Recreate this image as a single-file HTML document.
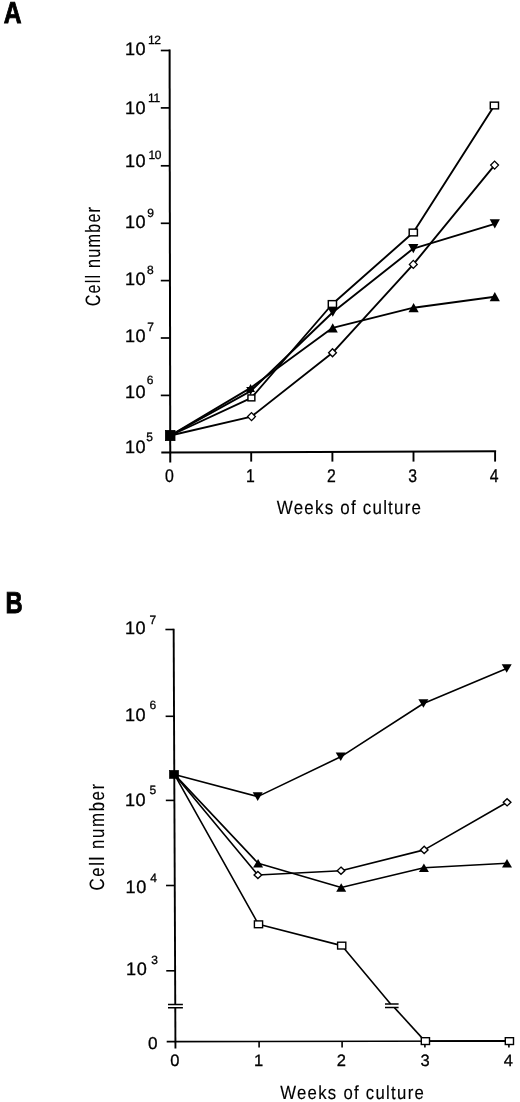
<!DOCTYPE html>
<html><head><meta charset="utf-8"><title>Figure</title>
<style>
html,body{margin:0;padding:0;background:#fff;}
text{stroke:#000;stroke-width:0.3px;}
svg{display:block;font-family:"Liberation Sans", sans-serif;fill:#000;will-change:transform;text-rendering:geometricPrecision;}
</style></head><body>
<svg width="520" height="1102" viewBox="0 0 520 1102">
<rect width="520" height="1102" fill="#fff"/>
<text transform="translate(3.75,22.95) scale(0.817,1)" font-size="30.2" font-weight="bold" letter-spacing="0.000" text-anchor="start" style="stroke-width:0.9px">A</text>
<line x1="169.60" y1="49.60" x2="170.25" y2="462.40" stroke="#000" stroke-width="2.0" stroke-linecap="butt"/>
<line x1="161.30" y1="452.60" x2="496.10" y2="451.20" stroke="#000" stroke-width="2.0" stroke-linecap="butt"/>
<line x1="160.80" y1="50.50" x2="169.90" y2="50.50" stroke="#000" stroke-width="1.7" stroke-linecap="butt"/>
<text transform="translate(124.90,54.60)" font-size="18.1" font-weight="normal" letter-spacing="0.500" text-anchor="start">10</text>
<text transform="translate(147.90,44.40)" font-size="12.0" font-weight="normal" letter-spacing="-0.300" text-anchor="start">12</text>
<line x1="160.80" y1="107.90" x2="169.90" y2="107.90" stroke="#000" stroke-width="1.7" stroke-linecap="butt"/>
<text transform="translate(124.90,113.65)" font-size="18.1" font-weight="normal" letter-spacing="0.500" text-anchor="start">10</text>
<text transform="translate(147.90,101.80)" font-size="12.0" font-weight="normal" letter-spacing="-0.300" text-anchor="start">11</text>
<line x1="160.80" y1="165.80" x2="169.90" y2="165.80" stroke="#000" stroke-width="1.7" stroke-linecap="butt"/>
<text transform="translate(124.90,167.20)" font-size="18.1" font-weight="normal" letter-spacing="0.500" text-anchor="start">10</text>
<text transform="translate(148.40,159.00)" font-size="12.0" font-weight="normal" letter-spacing="-0.300" text-anchor="start">10</text>
<line x1="160.80" y1="223.30" x2="169.90" y2="223.30" stroke="#000" stroke-width="1.7" stroke-linecap="butt"/>
<text transform="translate(124.90,227.90)" font-size="18.1" font-weight="normal" letter-spacing="0.500" text-anchor="start">10</text>
<text transform="translate(147.30,216.50)" font-size="12.0" font-weight="normal" letter-spacing="0.000" text-anchor="start">9</text>
<line x1="160.80" y1="280.60" x2="169.90" y2="280.60" stroke="#000" stroke-width="1.7" stroke-linecap="butt"/>
<text transform="translate(124.90,285.10)" font-size="18.1" font-weight="normal" letter-spacing="0.500" text-anchor="start">10</text>
<text transform="translate(147.00,274.00)" font-size="12.0" font-weight="normal" letter-spacing="0.000" text-anchor="start">8</text>
<line x1="160.80" y1="338.00" x2="169.90" y2="338.00" stroke="#000" stroke-width="1.7" stroke-linecap="butt"/>
<text transform="translate(124.90,342.40)" font-size="18.1" font-weight="normal" letter-spacing="0.500" text-anchor="start">10</text>
<text transform="translate(147.30,330.90)" font-size="12.0" font-weight="normal" letter-spacing="0.000" text-anchor="start">7</text>
<line x1="160.80" y1="395.40" x2="169.90" y2="395.40" stroke="#000" stroke-width="1.7" stroke-linecap="butt"/>
<text transform="translate(124.90,397.70)" font-size="18.1" font-weight="normal" letter-spacing="0.500" text-anchor="start">10</text>
<text transform="translate(146.80,384.20)" font-size="12.0" font-weight="normal" letter-spacing="0.000" text-anchor="start">6</text>
<text transform="translate(124.90,452.90)" font-size="18.1" font-weight="normal" letter-spacing="0.500" text-anchor="start">10</text>
<text transform="translate(146.30,440.70)" font-size="12.0" font-weight="normal" letter-spacing="0.000" text-anchor="start">5</text>
<text transform="translate(169.30,481.70) scale(0.86,1)" font-size="18.4" font-weight="normal" letter-spacing="0.000" text-anchor="middle">0</text>
<line x1="251.20" y1="452.22" x2="251.20" y2="461.60" stroke="#000" stroke-width="1.9" stroke-linecap="butt"/>
<text transform="translate(250.30,481.70) scale(0.86,1)" font-size="18.4" font-weight="normal" letter-spacing="0.000" text-anchor="middle">1</text>
<line x1="332.40" y1="451.88" x2="332.40" y2="461.60" stroke="#000" stroke-width="1.9" stroke-linecap="butt"/>
<text transform="translate(331.50,481.70) scale(0.86,1)" font-size="18.4" font-weight="normal" letter-spacing="0.000" text-anchor="middle">2</text>
<line x1="413.50" y1="451.54" x2="413.50" y2="461.60" stroke="#000" stroke-width="1.9" stroke-linecap="butt"/>
<text transform="translate(412.60,481.70) scale(0.86,1)" font-size="18.4" font-weight="normal" letter-spacing="0.000" text-anchor="middle">3</text>
<line x1="495.10" y1="451.20" x2="495.10" y2="461.60" stroke="#000" stroke-width="1.9" stroke-linecap="butt"/>
<text transform="translate(494.20,481.70) scale(0.86,1)" font-size="18.4" font-weight="normal" letter-spacing="0.000" text-anchor="middle">4</text>
<text transform="translate(100.00,306.30) rotate(-90) scale(0.78,1)" font-size="20.8" font-weight="normal" letter-spacing="1.517" text-anchor="start" style="stroke-width:0.05px">Cell number</text>
<text transform="translate(276.80,514.40) scale(0.88,1)" font-size="19.3" font-weight="normal" letter-spacing="1.373" text-anchor="start" style="stroke-width:0.15px">Weeks of culture</text>
<polyline points="170.40,435.50 250.60,387.90 332.70,327.80 413.60,307.70 494.80,296.70" fill="none" stroke="#000" stroke-width="1.9" stroke-linejoin="round"/>
<polyline points="170.40,435.50 250.60,391.10 332.80,312.20 413.30,248.60 494.80,223.80" fill="none" stroke="#000" stroke-width="1.9" stroke-linejoin="round"/>
<polyline points="170.40,435.50 251.50,416.60 332.50,352.80 413.30,264.40 494.60,165.10" fill="none" stroke="#000" stroke-width="1.9" stroke-linejoin="round"/>
<polyline points="170.40,435.50 251.40,397.90 332.40,304.00 413.30,232.50 494.40,105.50" fill="none" stroke="#000" stroke-width="1.9" stroke-linejoin="round"/>
<polygon points="250.60,383.90 255.00,391.90 246.20,391.90" fill="#000"/>
<polygon points="250.60,395.10 255.00,387.10 246.20,387.10" fill="#000"/>
<polygon points="332.70,323.20 337.80,332.40 327.60,332.40" fill="#000"/>
<polygon points="413.60,303.10 418.70,312.30 408.50,312.30" fill="#000"/>
<polygon points="494.80,292.10 499.90,301.30 489.70,301.30" fill="#000"/>
<polygon points="332.80,316.80 337.90,307.60 327.70,307.60" fill="#000"/>
<polygon points="413.30,253.20 418.40,244.00 408.20,244.00" fill="#000"/>
<polygon points="494.80,228.40 499.90,219.20 489.70,219.20" fill="#000"/>
<polygon points="251.50,412.60 255.40,416.60 251.50,420.60 247.60,416.60" fill="#fff" stroke="#000" stroke-width="1.35"/>
<polygon points="332.50,348.80 336.40,352.80 332.50,356.80 328.60,352.80" fill="#fff" stroke="#000" stroke-width="1.35"/>
<polygon points="413.30,260.40 417.20,264.40 413.30,268.40 409.40,264.40" fill="#fff" stroke="#000" stroke-width="1.35"/>
<polygon points="494.60,161.10 498.50,165.10 494.60,169.10 490.70,165.10" fill="#fff" stroke="#000" stroke-width="1.35"/>
<rect x="247.95" y="394.95" width="6.9" height="5.9" fill="#fff" stroke="#000" stroke-width="1.45"/>
<rect x="328.30" y="300.65" width="8.2" height="6.7" fill="#fff" stroke="#000" stroke-width="1.45"/>
<rect x="409.20" y="229.15" width="8.2" height="6.7" fill="#fff" stroke="#000" stroke-width="1.45"/>
<rect x="490.30" y="102.15" width="8.2" height="6.7" fill="#fff" stroke="#000" stroke-width="1.45"/>
<rect x="165.40" y="430.40" width="9.6" height="10.2" fill="#000" stroke="#000" stroke-width="0.8"/>
<text transform="translate(5.50,612.60) scale(0.785,1)" font-size="30.3" font-weight="bold" letter-spacing="0.000" text-anchor="start" style="stroke-width:0.9px">B</text>
<line x1="173.65" y1="628.70" x2="175.26" y2="1004.60" stroke="#000" stroke-width="1.9" stroke-linecap="butt"/>
<line x1="175.28" y1="1007.80" x2="175.45" y2="1048.40" stroke="#000" stroke-width="1.9" stroke-linecap="butt"/>
<line x1="166.70" y1="1041.65" x2="514.00" y2="1041.00" stroke="#000" stroke-width="1.7" stroke-linecap="butt"/>
<line x1="165.40" y1="629.50" x2="173.65" y2="629.50" stroke="#000" stroke-width="1.6" stroke-linecap="butt"/>
<text transform="translate(124.90,633.60)" font-size="18.1" font-weight="normal" letter-spacing="0.500" text-anchor="start">10</text>
<text transform="translate(149.60,624.00)" font-size="12.0" font-weight="normal" letter-spacing="0.000" text-anchor="start">7</text>
<line x1="165.62" y1="716.30" x2="174.03" y2="716.30" stroke="#000" stroke-width="1.6" stroke-linecap="butt"/>
<text transform="translate(124.90,721.00)" font-size="18.1" font-weight="normal" letter-spacing="0.500" text-anchor="start">10</text>
<text transform="translate(149.40,708.80)" font-size="12.0" font-weight="normal" letter-spacing="0.000" text-anchor="start">6</text>
<line x1="165.83" y1="800.40" x2="174.39" y2="800.40" stroke="#000" stroke-width="1.6" stroke-linecap="butt"/>
<text transform="translate(125.00,806.20)" font-size="18.1" font-weight="normal" letter-spacing="0.500" text-anchor="start">10</text>
<text transform="translate(149.60,794.00)" font-size="12.0" font-weight="normal" letter-spacing="0.000" text-anchor="start">5</text>
<line x1="166.04" y1="885.50" x2="174.75" y2="885.50" stroke="#000" stroke-width="1.6" stroke-linecap="butt"/>
<text transform="translate(125.60,892.70)" font-size="18.1" font-weight="normal" letter-spacing="0.500" text-anchor="start">10</text>
<text transform="translate(150.30,882.10)" font-size="12.0" font-weight="normal" letter-spacing="0.000" text-anchor="start">4</text>
<line x1="166.25" y1="970.80" x2="175.12" y2="970.80" stroke="#000" stroke-width="1.6" stroke-linecap="butt"/>
<text transform="translate(126.10,974.80)" font-size="18.1" font-weight="normal" letter-spacing="0.500" text-anchor="start">10</text>
<text transform="translate(151.20,964.10)" font-size="12.0" font-weight="normal" letter-spacing="0.000" text-anchor="start">3</text>
<text transform="translate(152.85,1049.20)" font-size="17.2" font-weight="normal" letter-spacing="0.000" text-anchor="middle">0</text>
<line x1="168.00" y1="1004.60" x2="182.90" y2="1004.50" stroke="#000" stroke-width="1.5" stroke-linecap="butt"/>
<line x1="168.00" y1="1007.80" x2="182.90" y2="1007.70" stroke="#000" stroke-width="1.5" stroke-linecap="butt"/>
<text transform="translate(174.80,1065.60)" font-size="16.5" font-weight="normal" letter-spacing="0.000" text-anchor="middle">0</text>
<line x1="259.10" y1="1041.00" x2="259.10" y2="1047.60" stroke="#000" stroke-width="1.6" stroke-linecap="butt"/>
<text transform="translate(258.60,1065.60)" font-size="16.5" font-weight="normal" letter-spacing="0.000" text-anchor="middle">1</text>
<line x1="342.10" y1="1041.00" x2="342.10" y2="1047.60" stroke="#000" stroke-width="1.6" stroke-linecap="butt"/>
<text transform="translate(341.40,1065.60)" font-size="16.5" font-weight="normal" letter-spacing="0.000" text-anchor="middle">2</text>
<line x1="424.90" y1="1041.00" x2="424.90" y2="1047.60" stroke="#000" stroke-width="1.6" stroke-linecap="butt"/>
<text transform="translate(425.20,1065.60)" font-size="16.5" font-weight="normal" letter-spacing="0.000" text-anchor="middle">3</text>
<line x1="508.90" y1="1041.00" x2="508.90" y2="1047.60" stroke="#000" stroke-width="1.6" stroke-linecap="butt"/>
<text transform="translate(508.30,1065.60)" font-size="16.5" font-weight="normal" letter-spacing="0.000" text-anchor="middle">4</text>
<text transform="translate(103.80,890.60) rotate(-90) scale(0.81,1)" font-size="20.8" font-weight="normal" letter-spacing="1.972" text-anchor="start" style="stroke-width:0.05px">Cell number</text>
<text transform="translate(280.20,1098.60) scale(0.88,1)" font-size="19.0" font-weight="normal" letter-spacing="1.468" text-anchor="start" style="stroke-width:0.15px">Weeks of culture</text>
<polyline points="174.40,774.40 258.10,863.20 341.20,887.50 423.90,867.70 507.00,863.30" fill="none" stroke="#000" stroke-width="1.6" stroke-linejoin="round"/>
<polyline points="174.40,774.40 257.70,796.60 340.70,756.80 423.40,703.50 506.70,668.50" fill="none" stroke="#000" stroke-width="1.6" stroke-linejoin="round"/>
<polyline points="174.40,774.40 257.90,875.00 341.00,870.70 424.20,849.90 507.10,802.30" fill="none" stroke="#000" stroke-width="1.6" stroke-linejoin="round"/>
<polyline points="174.40,774.40 258.50,924.30 341.70,945.60 390.60,1004.00" fill="none" stroke="#000" stroke-width="1.6" stroke-linejoin="round"/>
<polyline points="394.40,1007.60 424.50,1040.60" fill="none" stroke="#000" stroke-width="1.6" stroke-linejoin="round"/>
<line x1="425.40" y1="1041.15" x2="509.40" y2="1041.00" stroke="#000" stroke-width="1.9" stroke-linecap="butt"/>
<line x1="385.00" y1="1004.00" x2="398.60" y2="1003.90" stroke="#000" stroke-width="1.5" stroke-linecap="butt"/>
<line x1="385.00" y1="1007.60" x2="398.60" y2="1007.50" stroke="#000" stroke-width="1.5" stroke-linecap="butt"/>
<polygon points="258.10,859.00 263.10,867.40 253.10,867.40" fill="#000"/>
<polygon points="341.20,883.30 346.20,891.70 336.20,891.70" fill="#000"/>
<polygon points="423.90,863.50 428.90,871.90 418.90,871.90" fill="#000"/>
<polygon points="507.00,859.10 512.00,867.50 502.00,867.50" fill="#000"/>
<polygon points="257.70,800.90 262.70,792.30 252.70,792.30" fill="#000"/>
<polygon points="340.70,761.10 345.70,752.50 335.70,752.50" fill="#000"/>
<polygon points="423.40,707.80 428.40,699.20 418.40,699.20" fill="#000"/>
<polygon points="506.70,672.80 511.70,664.20 501.70,664.20" fill="#000"/>
<polygon points="257.90,871.40 261.70,875.00 257.90,878.60 254.10,875.00" fill="#fff" stroke="#000" stroke-width="1.4"/>
<polygon points="341.00,867.10 344.80,870.70 341.00,874.30 337.20,870.70" fill="#fff" stroke="#000" stroke-width="1.4"/>
<polygon points="424.20,846.30 428.00,849.90 424.20,853.50 420.40,849.90" fill="#fff" stroke="#000" stroke-width="1.4"/>
<polygon points="507.10,798.70 510.90,802.30 507.10,805.90 503.30,802.30" fill="#fff" stroke="#000" stroke-width="1.4"/>
<rect x="254.40" y="920.90" width="8.2" height="6.8" fill="#fff" stroke="#000" stroke-width="1.4"/>
<rect x="337.60" y="942.20" width="8.2" height="6.8" fill="#fff" stroke="#000" stroke-width="1.4"/>
<rect x="421.30" y="1037.70" width="8.2" height="6.8" fill="#fff" stroke="#000" stroke-width="1.4"/>
<rect x="505.30" y="1037.70" width="8.2" height="6.8" fill="#fff" stroke="#000" stroke-width="1.4"/>
<rect x="169.40" y="770.35" width="9.2" height="8.1" fill="#000" stroke="#000" stroke-width="0.6"/>
</svg>
</body></html>
